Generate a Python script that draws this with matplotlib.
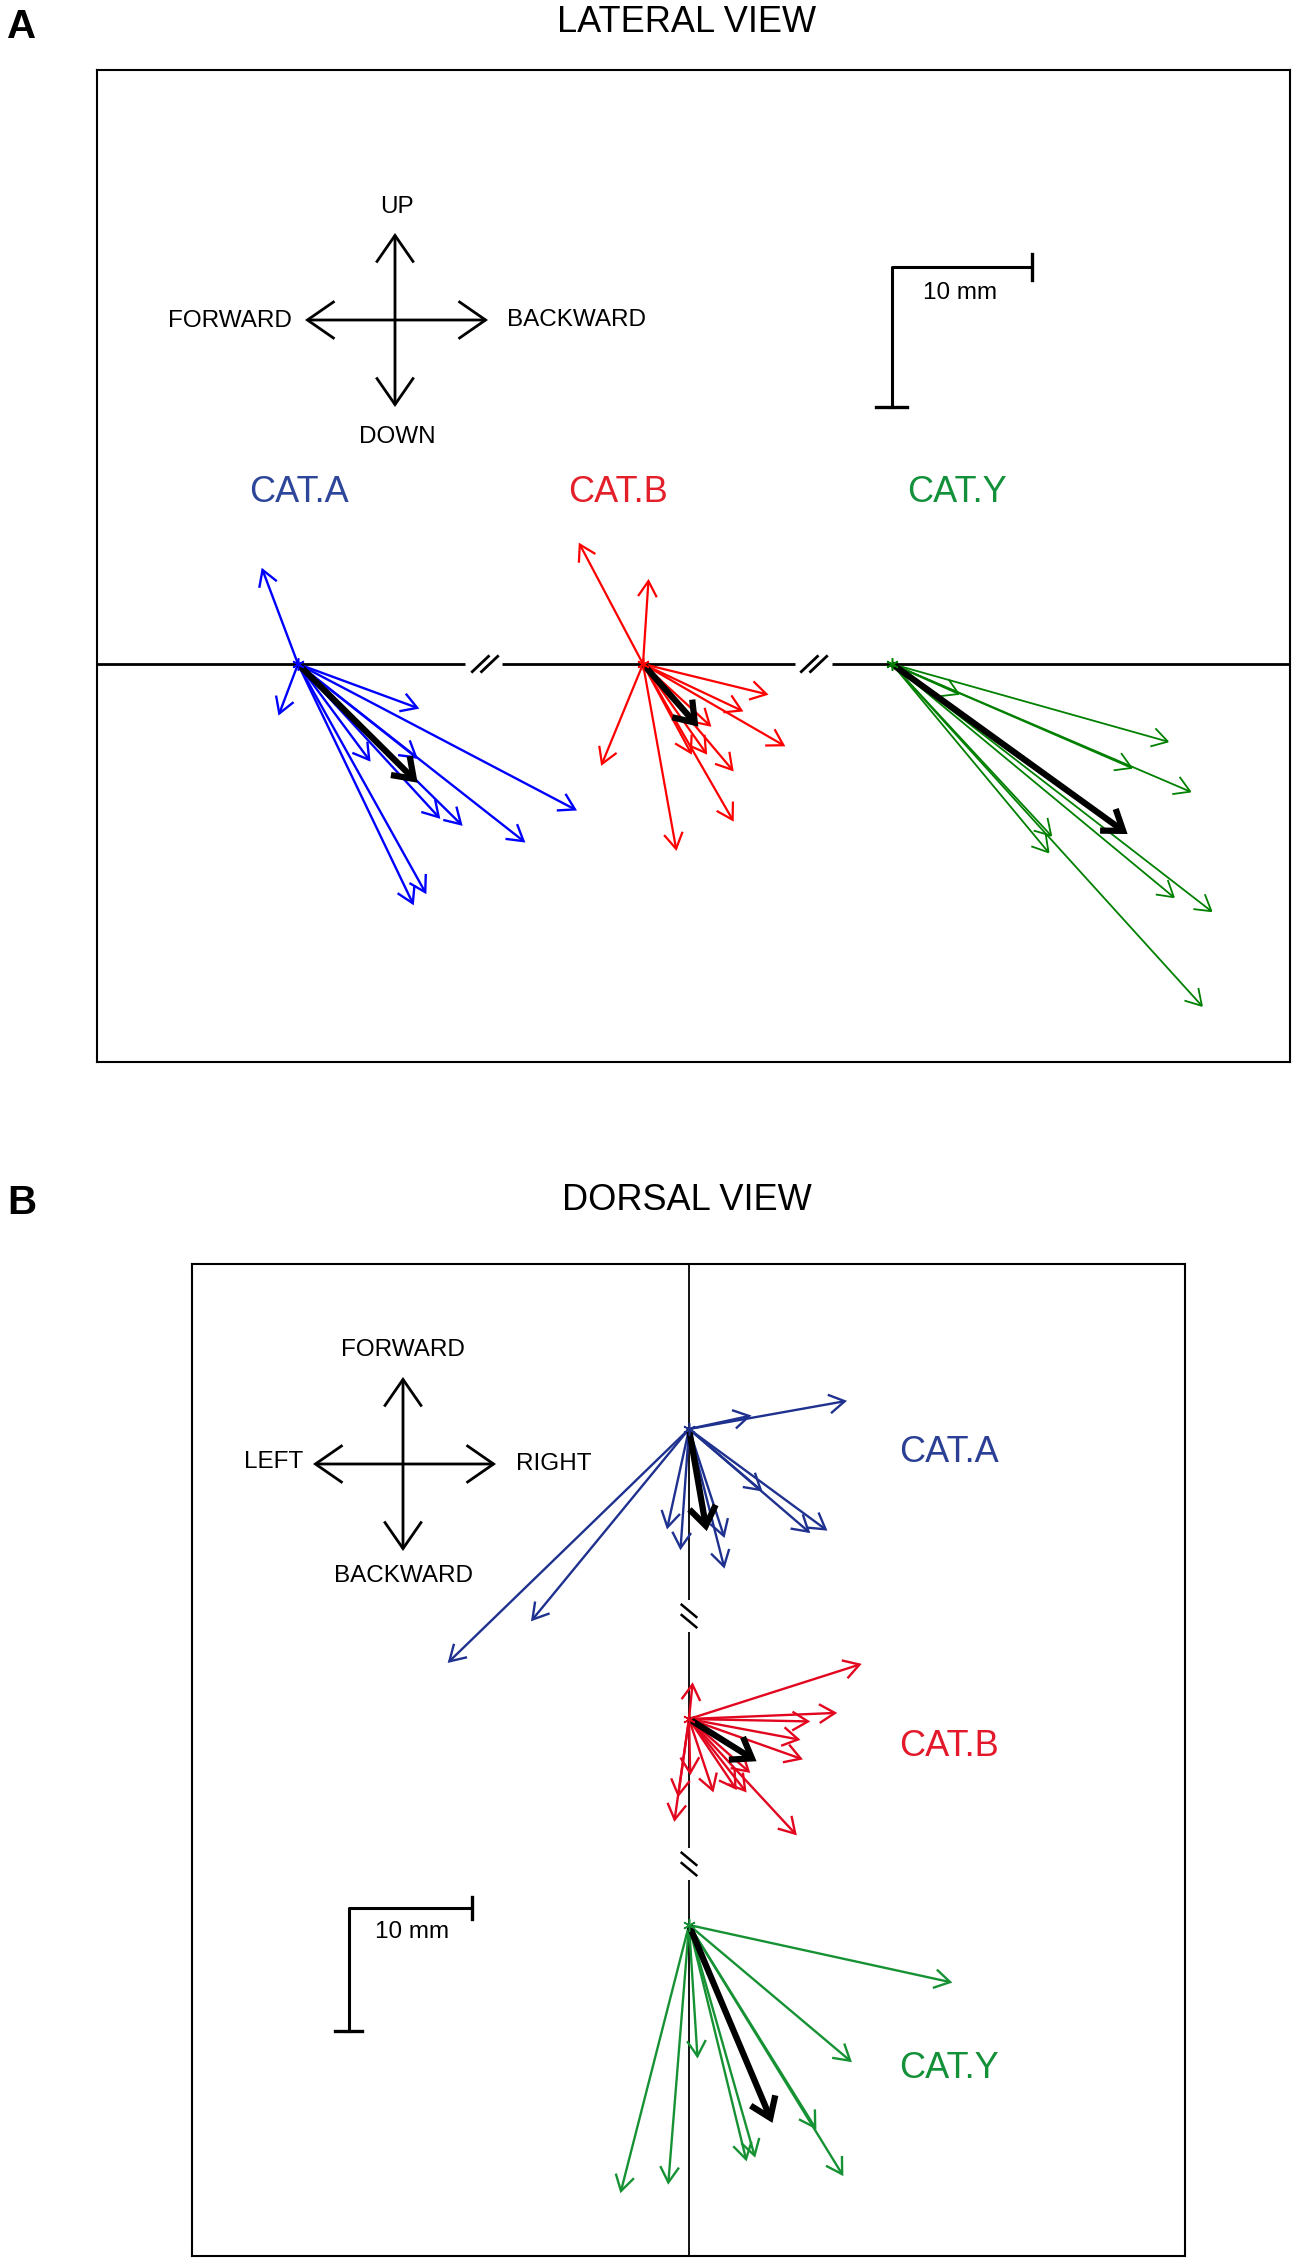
import numpy as np
import matplotlib.pyplot as plt
from matplotlib.patches import FancyArrowPatch

plt.rcParams['font.family'] = ['Liberation Sans', 'DejaVu Sans']

# ---- data (mm), one vector per trial, relative to group start point ----
# lateral view: x = backward (+), y = up (+)
lat_a_dx = [-2.6, -1.4, 8.7, 5.2, 8.6, 10.2, 11.8, 16.3, 20.0, 9.2, 8.3]
lat_a_dy = [6.9, -3.7, -3.2, -7.0, -6.8, -11.1, -11.6, -12.8, -10.5, -16.5, -17.3]
lat_b_dx = [-4.6, 0.4, -3.0, 9.0, 7.2, 4.9, 10.2, 3.5, 4.6, 6.5, 6.5, 2.4]
lat_b_dy = [8.7, 6.1, -7.3, -2.2, -3.4, -4.5, -5.9, -6.5, -6.5, -7.7, -11.3, -13.4]
lat_y_dx = [19.9, 4.9, 17.3, 21.5, 11.3, 11.5, 20.3, 23.0, 22.3]
lat_y_dy = [-5.6, -2.2, -7.5, -9.2, -13.6, -12.4, -16.8, -17.8, -24.6]

# dorsal view: x = right (+), y = forward (+)
dor_a_dx = [12.9, 5.1, -19.7, -12.9, -1.8, -0.7, 2.9, 2.9, 6.0, 9.9, 11.3]
dor_a_dy = [2.3, 1.1, -19.1, -15.7, -8.2, -9.9, -11.4, -8.9, -5.1, -8.5, -8.3]
dor_b_dx = [14.1, 12.1, 9.9, 9.1, 9.3, 0.3, 0.1, -1.2, -0.9, 2.0, 3.9, 4.7, 5.0, 8.8]
dor_b_dy = [4.5, 0.5, -0.2, -1.7, -3.3, 3.0, -4.6, -8.4, -6.4, -6.0, -5.8, -6.0, -4.4, -9.5]
dor_y_dx = [21.5, 13.3, 0.7, -5.6, -1.7, 4.7, 5.4, 10.4, 12.6]
dor_y_dy = [-4.7, -11.2, -10.9, -21.9, -21.2, -19.3, -19.0, -16.7, -20.5]

cats = ['CAT.A', 'CAT.B', 'CAT.Y']
scale_mm = 10

W, H = 1300, 2267
fig = plt.figure(figsize=(W / 100, H / 100), dpi=100)

# pixel -> data helpers for the two boxes
A_PX = 13.95   # px per mm, lateral
B_PX = 12.25   # px per mm, dorsal


def pA(x, y):
    return (x - 97) / A_PX, (664 - y) / A_PX


def pB(x, y):
    return (x - 689) / B_PX, (2256 - y) / B_PX


def arrow(ax, p0, p1, color, lw=1.4, style='->', hl=0.75, hw=0.45, ms=15, z=3):
    a = FancyArrowPatch(p0, p1, arrowstyle=f'{style},head_length={hl},head_width={hw}',
                        mutation_scale=ms, color=color, lw=lw, shrinkA=0, shrinkB=0,
                        zorder=z, joinstyle='miter', capstyle='butt')
    ax.add_patch(a)


def fan(ax, origin, dx, dy, color, lw):
    x0, y0 = origin
    for u, v in zip(dx, dy):
        arrow(ax, (x0, y0), (x0 + u, y0 + v), color, lw=lw)
    mx, my = np.mean(dx), np.mean(dy)
    arrow(ax, (x0, y0), (x0 + mx, y0 + my), 'black', lw=4.5, hl=0.85, hw=0.6, ms=16, z=5)
    ax.plot(x0, y0, marker=(6, 2, 0), ms=9, mew=1.1, color=color, zorder=6)


def setup(ax):
    ax.set_xticks([])
    ax.set_yticks([])
    for s in ax.spines.values():
        s.set_linewidth(1.5)
        s.set_color('black')


def fx(x):
    return x / W


def fy(y):
    return 1 - y / H


# ================= A: lateral view =================
axA = fig.add_axes([fx(97), fy(1062), 1193 / W, 992 / H])
setup(axA)
axA.set_xlim(0, (1290 - 97) / A_PX)
axA.set_ylim((664 - 1062) / A_PX, (664 - 70) / A_PX)

fig.text(fx(22), fy(27), 'A', fontsize=29, fontweight='bold', ha='center', va='center')
fig.text(fx(687), fy(22), 'LATERAL VIEW', fontsize=26, ha='center', va='center')

# baseline with breaks
xmax = (1290 - 97) / A_PX
segs = [(0, pA(465, 0)[0]), (pA(502, 0)[0], pA(795, 0)[0]), (pA(832, 0)[0], xmax)]
for a, b in segs:
    axA.plot([a, b], [0, 0], color='black', lw=2.0, solid_capstyle='butt', zorder=2)
for cx in (pA(485, 0)[0], pA(814, 0)[0]):
    for off in (-0.33, 0.33):
        axA.plot([cx + off - 0.58, cx + off + 0.58], [-0.55, 0.55], color='black', lw=2.0, zorder=2)

# compass
arrow(axA, pA(305, 320), pA(488, 320), 'black', lw=2.0, style='<->', hl=1.95, hw=1.35, ms=10)
arrow(axA, pA(395, 407), pA(395, 233), 'black', lw=2.0, style='<->', hl=1.95, hw=1.35, ms=10)
axA.text(*pA(397, 207), 'UP', fontsize=17.5, ha='center', va='center')
axA.text(*pA(397, 437), 'DOWN', fontsize=17.5, ha='center', va='center')
axA.text(*pA(292, 321), 'FORWARD', fontsize=17.5, ha='right', va='center')
axA.text(*pA(507, 320), 'BACKWARD', fontsize=17.5, ha='left', va='center')

# scale bar
sx, sy = pA(892, 267)
axA.plot([sx + scale_mm, sx, sx], [sy, sy, sy - scale_mm], color='black', lw=2.2, zorder=2)
axA.plot([sx + scale_mm] * 2, [sy - 0.9, sy + 0.9], color='black', lw=2.4)
axA.plot([sx - 1.15, sx + 1.1], [sy - scale_mm] * 2, color='black', lw=2.4)
axA.text(*pA(960, 293), f'{scale_mm} mm', fontsize=17.5, ha='center', va='center')

lat_label_cols = ['#2d4699', '#e3202a', '#12903a']
lat_cols = ['#0000ff', '#ff0000', '#008000']
lat_x = [pA(298, 664)[0], pA(643, 664)[0], pA(892, 664)[0]]
lab_x = [299, 618, 957]
lat_data = [(lat_a_dx, lat_a_dy), (lat_b_dx, lat_b_dy), (lat_y_dx, lat_y_dy)]
lat_lw = [1.7, 1.6, 1.3]
for i in range(3):
    axA.text(*pA(lab_x[i], 493), cats[i], fontsize=26, color=lat_label_cols[i],
             ha='center', va='center')
    fan(axA, (lat_x[i], 0), lat_data[i][0], lat_data[i][1], lat_cols[i], lat_lw[i])

# ================= B: dorsal view =================
axB = fig.add_axes([fx(192), fy(2256), 993 / W, 992 / H])
setup(axB)
axB.set_xlim(pB(192, 0)[0], pB(1185, 0)[0])
axB.set_ylim(0, 992 / B_PX)

fig.text(fx(22), fy(1203), 'B', fontsize=29, fontweight='bold', ha='center', va='center')
fig.text(fx(687), fy(1200), 'DORSAL VIEW', fontsize=26, ha='center', va='center')

ymax = 992 / B_PX
g1, g2 = pB(0, 1616)[1], pB(0, 1864)[1]
segsB = [(ymax, g1 + 1.3), (g1 - 1.3, g2 + 1.3), (g2 - 1.3, 0)]
for a, b in segsB:
    axB.plot([0, 0], [a, b], color='black', lw=1.3, solid_capstyle='butt', zorder=2)
for cy in (g1, g2):
    for off in (-0.42, 0.42):
        axB.plot([-0.6, 0.6], [cy + off + 0.5, cy + off - 0.5], color='black', lw=1.8, zorder=2)

arrow(axB, pB(313, 1464), pB(496, 1464), 'black', lw=2.0, style='<->', hl=1.95, hw=1.35, ms=10)
arrow(axB, pB(403, 1551), pB(403, 1377), 'black', lw=2.0, style='<->', hl=1.95, hw=1.35, ms=10)
axB.text(*pB(403, 1350), 'FORWARD', fontsize=17.5, ha='center', va='center')
axB.text(*pB(403, 1576), 'BACKWARD', fontsize=17.5, ha='center', va='center')
axB.text(*pB(303, 1462), 'LEFT', fontsize=17.5, ha='right', va='center')
axB.text(*pB(516, 1464), 'RIGHT', fontsize=17.5, ha='left', va='center')

sx, sy = pB(349, 1908)
axB.plot([sx + scale_mm, sx, sx], [sy, sy, sy - scale_mm], color='black', lw=2.2, zorder=2)
axB.plot([sx + scale_mm] * 2, [sy - 0.9, sy + 0.9], color='black', lw=2.4)
axB.plot([sx - 1.15, sx + 1.1], [sy - scale_mm] * 2, color='black', lw=2.4)
axB.text(*pB(412, 1932), f'{scale_mm} mm', fontsize=17.5, ha='center', va='center')

dor_label_cols = ['#2b3f94', '#e3192b', '#139038']
dor_cols = ['#1f318f', '#e2061f', '#169234']
dor_y = [pB(0, 1429)[1], pB(0, 1719)[1], pB(0, 1925)[1]]
lab_y = [1452, 1746, 2068]
dor_data = [(dor_a_dx, dor_a_dy), (dor_b_dx, dor_b_dy), (dor_y_dx, dor_y_dy)]
for i in range(3):
    axB.text(*pB(949, lab_y[i]), cats[i], fontsize=26, color=dor_label_cols[i],
             ha='center', va='center')
    fan(axB, (0, dor_y[i]), dor_data[i][0], dor_data[i][1], dor_cols[i], 1.7)

fig.savefig('out.png', dpi=100)
